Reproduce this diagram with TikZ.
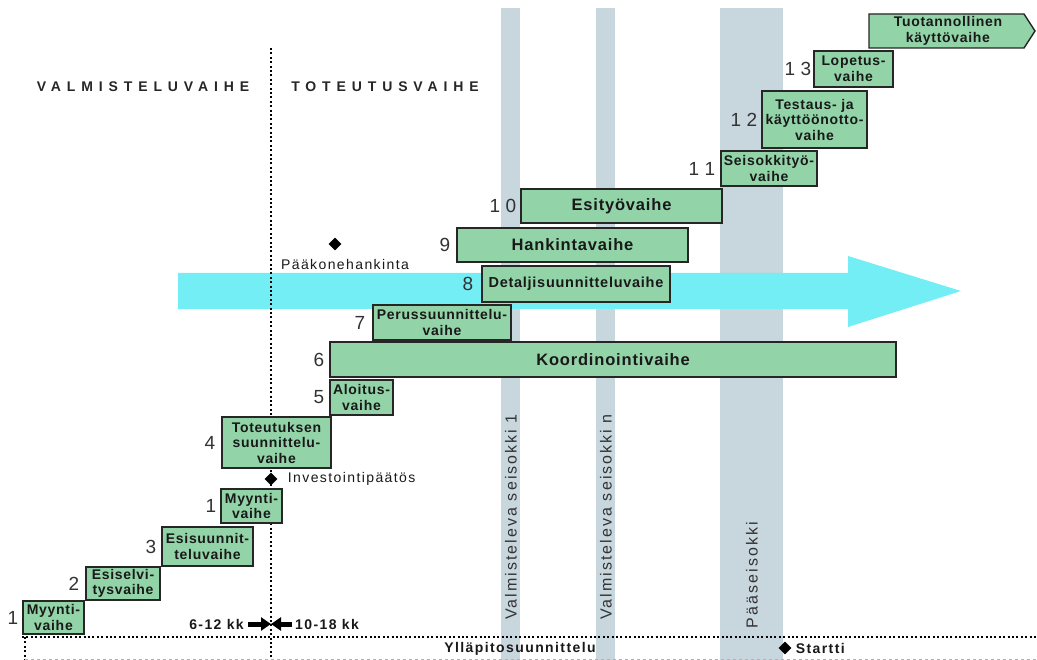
\documentclass[tikz,border=0pt]{standalone}
\usepackage{fontspec}
\setmainfont{Liberation Sans}
\newfontfamily\boxfont[LetterSpace=5]{Liberation Sans}
\newfontfamily\notefont[LetterSpace=10]{Liberation Sans}
\newfontfamily\bandfont[LetterSpace=13]{Liberation Sans}
\newfontfamily\headfont[LetterSpace=42]{Liberation Sans}
\usetikzlibrary{arrows.meta, positioning, shapes.geometric}

\definecolor{vaihegreen}{RGB}{146,212,168}
\definecolor{bandgray}{RGB}{200,214,222}
\definecolor{arrowcyan}{RGB}{115,238,245}
\definecolor{numgray}{RGB}{50,50,50}

\begin{document}
\begin{tikzpicture}[x=1pt, y=-1pt,
    phaseline/.style={draw=black!85, line width=1.4pt, fill=vaihegreen},
    phase/.style={phaseline, inner sep=0pt, align=center, text=black!90,
        font=\boxfont\bfseries\fontsize{14}{15.5}\selectfont},
    bigphase/.style={phase, font=\boxfont\bfseries\fontsize{16.5}{18}\selectfont},
    wh/.style 2 args={minimum width=#1, minimum height=#2},
    num/.style={text=numgray, inner sep=0pt, font=\fontsize{19}{19}\selectfont},
    band/.style={fill=bandgray},
    milestone/.style={diamond, fill=black, inner sep=0pt, minimum size=13pt},
    note/.style={inner sep=1pt, text=black!90, font=\notefont\fontsize{14}{16}\selectfont},
    boldnote/.style={note, font=\notefont\bfseries\fontsize{14}{16}\selectfont},
    heading/.style={inner sep=0pt, text=black!85, font=\headfont\bfseries\fontsize{14}{16}\selectfont},
    bandtext/.style={rotate=90, inner sep=0pt, text=black!80, font=\bandfont\fontsize{16}{18}\selectfont},
    dotline/.style={line width=2pt, dash pattern=on 2pt off 2.4pt},
    kkarr/.style={-{Triangle[length=10pt, width=13pt]}, line width=5pt}
]
\useasboundingbox (0,0) rectangle (1037,660);

% harmaat seisokkipalkit
\fill[band] (501,8) rectangle (520,660);
\fill[band] (596,8) rectangle (615,660);
\fill[band] (720,8) rectangle (783,660);

% syaani nuoli
\fill[arrowcyan] (178,273) -- (848,273) -- (848,256) -- (961,291) -- (848,327)
    -- (848,309) -- (178,309) -- cycle;

% pisteviivat
\draw[dotline] (271,48) -- (271,660);
\draw[dotline] (22,637) -- (1037,637);
\draw[dotline] (25,637) -- (25,660);
\draw[gray!60, dashed, thin] (25,659) -- (1037,659);

% palkkien tekstit
\node[bandtext] (vs1) at (511,517) {Valmisteleva seisokki 1};
\node[bandtext] (vsn) at (606,517) {Valmisteleva seisokki n};
\node[bandtext] (ps) at (752,575) {Pääseisokki};

% otsikot
\node[heading] (valm) at (143,87) {VALMISTELUVAIHE};
\node[heading] (tot) at (385,87) {TOTEUTUSVAIHE};

% vaiheet
\node[phase, wh={61}{33}] (myynti1) at (53.5,617.5) {Myynti-\\vaihe};
\node[phase, wh={74}{33}] (esiselv) at (123,583.5) {Esiselvi-\\tysvaihe};
\node[phase, wh={91}{39}] (esisuun) at (207.5,546.5) {Esisuunnit-\\teluvaihe};
\node[phase, wh={109}{51}] (totsuun) at (276.5,442.5) {Toteutuksen\\suunnittelu-\\vaihe};
\node[phase, wh={61}{34}] (myynti2) at (251.5,506) {Myynti-\\vaihe};
\node[phase, wh={63}{35}] (aloitus) at (361.5,397.5) {Aloitus-\\vaihe};
\node[bigphase, wh={566}{35}] (koord) at (613,359.5) {Koordinointivaihe};
\node[phase, wh={138}{35}] (perus) at (442,322.5) {Perussuunnittelu-\\vaihe};
\node[phase, wh={188}{36}, font=\boxfont\bfseries\fontsize{14.5}{16}\selectfont] (detalji) at (576,284) {Detaljisuunnitteluvaihe};
\node[bigphase, wh={231}{34}] (hankinta) at (572.5,245) {Hankintavaihe};
\node[bigphase, wh={201}{34}] (esityo) at (621.5,206) {Esityövaihe};
\node[phase, wh={96}{35}] (seisokki) at (769,168.5) {Seisokkityö-\\vaihe};
\node[phase, wh={105}{57}] (testaus) at (814.5,119.5) {Testaus- ja\\käyttöönotto-\\vaihe};
\node[phase, wh={79}{36}] (lopetus) at (853.5,69) {Lopetus-\\vaihe};
\draw[phaseline] (869,14) -- (1024,14) -- (1035,31) -- (1024,48) -- (869,48) -- cycle;
\node[phase, draw=none, fill=none] (tuot) at (948,31) {Tuotannollinen\\käyttövaihe};

% numerot
\node[num, left=4pt of myynti1] (n1a) {1};
\node[num, left=6pt of esiselv] (n2) {2};
\node[num, left=5pt of esisuun] (n3) {3};
\node[num, left=6pt of totsuun] (n4) {4};
\node[num, left=4pt of myynti2] (n1b) {1};
\node[num, left=5pt of aloitus] (n5) {5};
\node[num, left=5pt of koord] (n6) {6};
\node[num, left=7pt of perus] (n7) {7};
\node[num, left=8pt of detalji] (n8) {8};
\node[num, left=6pt of hankinta] (n9) {9};
\node[num, left=4pt of esityo] (n10) {1 0};
\node[num, left=5pt of seisokki] (n11) {1 1};
\node[num, left=4pt of testaus] (n12) {1 2};
\node[num, left=2pt of lopetus] (n13) {1 3};

% virstanpylväät
\node[milestone] (inv) at (271,479) {};
\node[note, right=9pt of inv] (invtext) {Investointipäätös};
\node[milestone] (pk) at (335,244) {};
\node[note] (pktext) at (345,264) {Pääkonehankinta};
\node[milestone] (startti) at (785,648) {};
\node[boldnote, right=3pt of startti] (starttitext) {Startti};
\node[boldnote] (yllap) at (520,649) {Ylläpitosuunnittelu};

% kestot
\node[boldnote, anchor=east] (kk1) at (245,624) {6-12 kk};
\node[boldnote, anchor=west] (kk2) at (294,624) {10-18 kk};
\coordinate (jako) at (271,624);
\draw[kkarr, shorten <=3pt] (kk1.east) -- (jako);
\draw[kkarr, shorten <=2pt] (kk2.west) -- (jako);

\end{tikzpicture}
\end{document}
